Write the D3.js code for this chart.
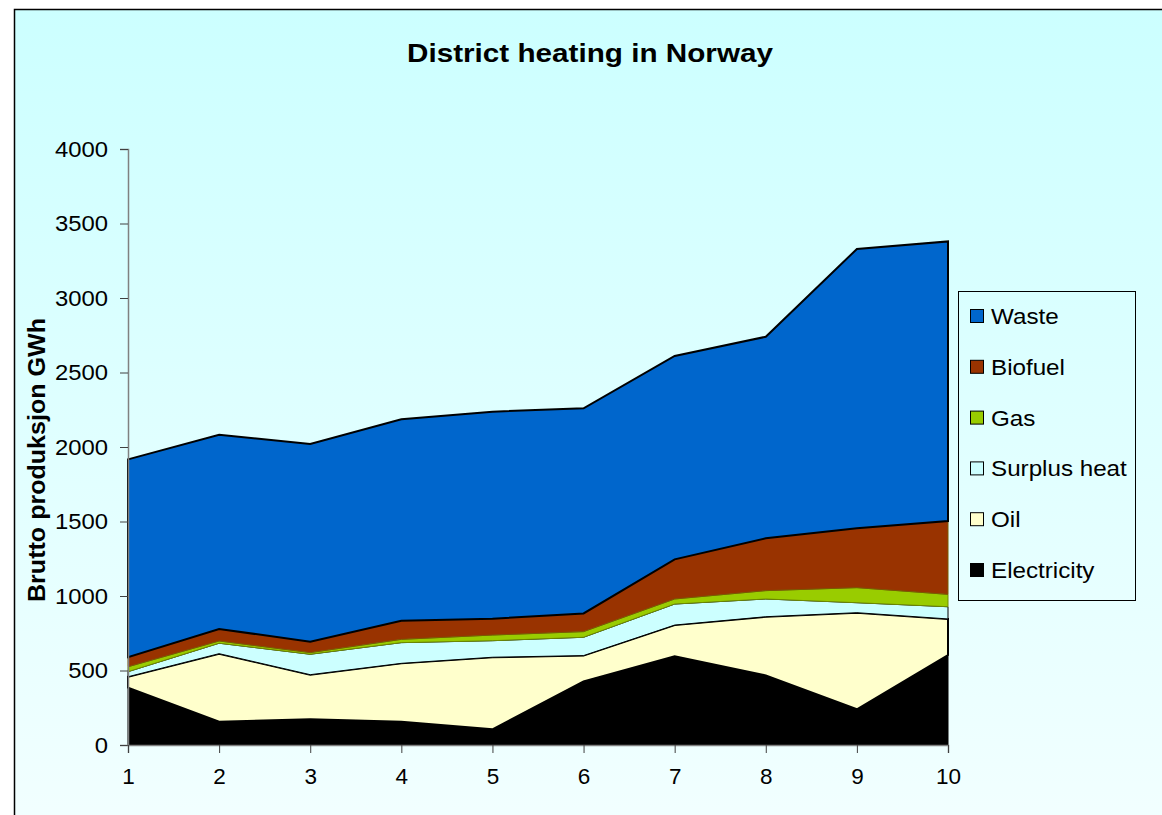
<!DOCTYPE html>
<html>
<head>
<meta charset="utf-8">
<script src="https://cdn.jsdelivr.net/npm/d3@7"></script>
<style>
  html, body { margin: 0; padding: 0; background: #ffffff; }
  svg { display: block; }
</style>
</head>
<body>
<svg id="chart" width="1162" height="815"></svg>
<script>
// ---- Data (GWh) ----
const categories = [1, 2, 3, 4, 5, 6, 7, 8, 9, 10];
const electricity = [385, 156, 172, 156, 105, 427, 595, 467, 240, 604];
const oil         = [73, 457, 300, 392, 484, 173, 210, 394, 648, 242];
const surplusHeat = [34, 70, 137, 139, 111, 123, 141, 119, 67, 82];
const gas         = [33, 15, 11, 22, 38, 38, 34, 56, 101, 83];
const biofuel     = [64, 81, 73, 125, 110, 122, 266, 351, 398, 492];
const waste       = [1328, 1303, 1327, 1352, 1389, 1377, 1365, 1353, 1875, 1877];
const yTicks = [0, 500, 1000, 1500, 2000, 2500, 3000, 3500, 4000];
const seriesNames = ["Electricity", "Oil", "Surplus heat", "Gas", "Biofuel", "Waste"];
const legendOrder = ["Waste", "Biofuel", "Gas", "Surplus heat", "Oil", "Electricity"];

const seriesValues = {
  "Electricity": electricity,
  "Oil": oil,
  "Surplus heat": surplusHeat,
  "Gas": gas,
  "Biofuel": biofuel,
  "Waste": waste
};
const styles = {
  "Electricity":  { fill: "#000000", stroke: "#000000", sw: 1 },
  "Oil":          { fill: "#FFFFCC", stroke: "#000000", sw: 2 },
  "Surplus heat": { fill: "#CCFFFF", stroke: "#000000", sw: 1 },
  "Gas":          { fill: "#99CC00", stroke: "#6E8A00", sw: 1 },
  "Biofuel":      { fill: "#993300", stroke: "#7A5A00", sw: 1 },
  "Waste":        { fill: "#0066CC", stroke: "#000000", sw: 2 }
};

const table = categories.map((c, i) => {
  const row = { cat: c };
  seriesNames.forEach(k => row[k] = seriesValues[k][i]);
  return row;
});

const svg = d3.select("#chart");
const font = "'Liberation Sans', Arial, sans-serif";

// background gradient
const defs = svg.append("defs");
const grad = defs.append("linearGradient").attr("id", "bg")
  .attr("x1", 0).attr("y1", 0).attr("x2", 0).attr("y2", 1);
grad.append("stop").attr("offset", "0%").attr("stop-color", "#CCFFFF");
grad.append("stop").attr("offset", "100%").attr("stop-color", "#F2FFFF");

svg.append("rect").attr("x", 14.5).attr("y", 9.5)
  .attr("width", 1162).attr("height", 820)
  .attr("fill", "url(#bg)")
  .attr("stroke", "#000").attr("stroke-width", 1.5);

// scales
const x = d3.scaleLinear().domain([1, 10]).range([128, 948]);
const y = d3.scaleLinear().domain([0, 4000]).range([745, 149]);

const stack = d3.stack().keys(seriesNames);
const stacked = stack(table);

const area = d3.area()
  .x(d => x(d.data.cat))
  .y0(d => y(d[0]))
  .y1(d => y(d[1]));

svg.append("g").selectAll("path")
  .data(stacked)
  .join("path")
  .attr("d", area)
  .attr("fill", d => styles[d.key].fill)
  .attr("stroke", d => styles[d.key].stroke)
  .attr("stroke-width", d => styles[d.key].sw)
  .attr("stroke-linejoin", "miter");

// axes
const yAxis = d3.axisLeft(y).tickValues(yTicks).tickSize(8).tickPadding(12)
  .tickFormat(d3.format("d"));
const gy = svg.append("g").attr("transform", "translate(128,0)").call(yAxis);
const xAxis = d3.axisBottom(x).tickValues(categories).tickSize(8).tickPadding(15)
  .tickFormat(d3.format("d"));
const gx = svg.append("g").attr("transform", "translate(0,745)").call(xAxis);

[gy, gx].forEach(g => {
  g.select(".domain").attr("stroke", "#808080").attr("stroke-width", 1.5);
  g.selectAll(".tick line").attr("stroke", "#404040").attr("stroke-width", 1);
  g.selectAll(".tick text").attr("font-family", font).attr("font-size", 22.5).attr("fill", "#000");
});
// slight horizontal stretch of y tick labels (anchored at right end)
gy.selectAll(".tick text").each(function () {
  const t = d3.select(this);
  const tx = +t.attr("x");
  t.attr("transform", `translate(${tx},0) scale(1.06,1) translate(${-tx},0)`);
});

// title
svg.append("text")
  .attr("transform", "translate(590,62) scale(1.12,1)")
  .attr("text-anchor", "middle")
  .attr("font-family", font).attr("font-weight", "bold").attr("font-size", 26.5)
  .text("District heating in Norway");

// y label
svg.append("text")
  .attr("transform", "translate(45,460) rotate(-90) scale(1.09,1)")
  .attr("text-anchor", "middle")
  .attr("font-family", font).attr("font-weight", "bold").attr("font-size", 23)
  .text("Brutto produksjon GWh");

// legend
const lg = svg.append("g");
lg.append("rect").attr("x", 958.5).attr("y", 291.5).attr("width", 177).attr("height", 309)
  .attr("fill", "none").attr("stroke", "#000").attr("stroke-width", 1);
const items = lg.selectAll("g.item").data(legendOrder).join("g")
  .attr("class", "item")
  .attr("transform", (d, i) => `translate(0,${316 + i * 50.8})`);
items.append("rect").attr("x", 970.5).attr("y", -6.5).attr("width", 13).attr("height", 13)
  .attr("fill", d => styles[d].fill).attr("stroke", "#000").attr("stroke-width", 1);
items.append("text")
  .attr("transform", "translate(991,0) scale(1.1,1)")
  .attr("dy", "0.36em")
  .attr("font-family", font).attr("font-size", 22)
  .text(d => d);
</script>
</body>
</html>
